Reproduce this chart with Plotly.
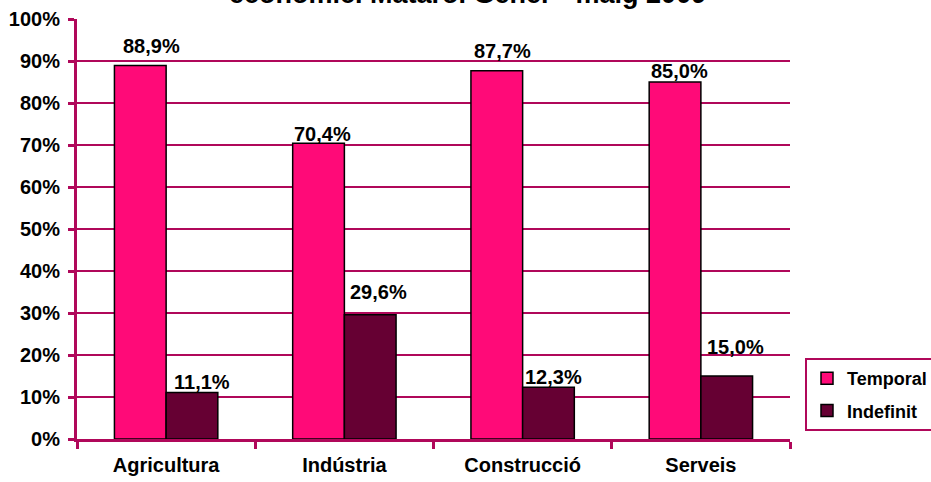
import plotly.graph_objects as go

sectors = ["Agricultura", "Indústria", "Construcció", "Serveis"]
temporal = [0.889, 0.704, 0.877, 0.850]
indefinit = [0.111, 0.296, 0.123, 0.150]
series_names = ["Temporal", "Indefinit"]
title_text = "econòmic. Mataró. Gener - maig 2009"

# label nudges (px) to mimic the original data-label placement
temporal_dx = [7, 0, 2, 1]
temporal_dy = [20, 9, 20, 11]
indefinit_dx = [7, 5, 1, 5]
indefinit_dy = [10, 23, 10, 29]

axis_col = "#B0085A"
font_fam = "Liberation Sans, Arial, sans-serif"
bar_w = 51.5  # approx pixel width of one bar, for label anchoring

fig = go.Figure()
fig.add_trace(go.Bar(
    x=sectors, y=temporal, name=series_names[0], legendgroup="a",
    marker=dict(color="#FF0A78", line=dict(color="black", width=1.5)),
))
fig.add_trace(go.Bar(
    x=sectors, y=indefinit, name=series_names[1], legendgroup="b",
    marker=dict(color="#660033", line=dict(color="black", width=1.5)),
))


def pct(v):
    return f"{v * 100:.1f}%".replace(".", ",")


annots = []
for vals, dxs, dys, base in [(temporal, temporal_dx, temporal_dy, -bar_w),
                             (indefinit, indefinit_dx, indefinit_dy, 0)]:
    for cat, v, dx, dy in zip(sectors, vals, dxs, dys):
        annots.append(dict(
            x=cat, y=v, xref="x", yref="y", text="<b>" + pct(v) + "</b>",
            xanchor="left", yanchor="middle", xshift=base + dx - 1, yshift=dy,
            showarrow=False, font=dict(size=20, family=font_fam, color="black"),
        ))

annots.append(dict(
    text="<b>" + title_text + "</b>", xref="paper", yref="paper",
    x=(468 - 77) / 713, y=1 + 8 / 420, xanchor="center", yanchor="bottom",
    showarrow=False, font=dict(size=27, family=font_fam, color="black"),
))

fig.update_layout(
    width=931, height=482,
    margin=dict(l=77, r=141, t=19, b=43),
    paper_bgcolor="white", plot_bgcolor="white",
    barmode="group", bargap=0.42, bargroupgap=0,
    font=dict(family=font_fam, size=20, color="black"),
    showlegend=True,
    legend=dict(
        xref="container", yref="container",
        x=805 / 931, y=(482 - 431) / 482, xanchor="left", yanchor="bottom",
        bordercolor=axis_col, borderwidth=2, bgcolor="white",
        font=dict(size=18, family=font_fam, color="black", weight="bold"),
        traceorder="grouped", tracegroupgap=6, itemwidth=30,
    ),
    annotations=annots,
)

fig.update_xaxes(
    showline=True, linecolor=axis_col, linewidth=3,
    ticks="outside", tickson="boundaries", ticklen=7, tickwidth=3, tickcolor=axis_col,
    tickfont=dict(size=20, family=font_fam, color="black", weight="bold"),
    ticklabelstandoff=6,
    showgrid=False, automargin=False,
)
fig.update_yaxes(
    range=[0, 1], dtick=0.1, tickformat=".0%",
    showline=True, linecolor=axis_col, linewidth=3,
    ticks="outside", ticklen=6, tickwidth=3, tickcolor=axis_col,
    ticklabelstandoff=4,
    showgrid=True, gridcolor=axis_col, gridwidth=2,
    zeroline=False, automargin=False,
    tickfont=dict(size=20, family=font_fam, color="black", weight="bold"),
)

# page body has an 8px default margin; drop it so the chart sits at the top-left
fig.write_html("out.html", config={"displayModeBar": False},
               post_script="document.body.style.margin='0';")
